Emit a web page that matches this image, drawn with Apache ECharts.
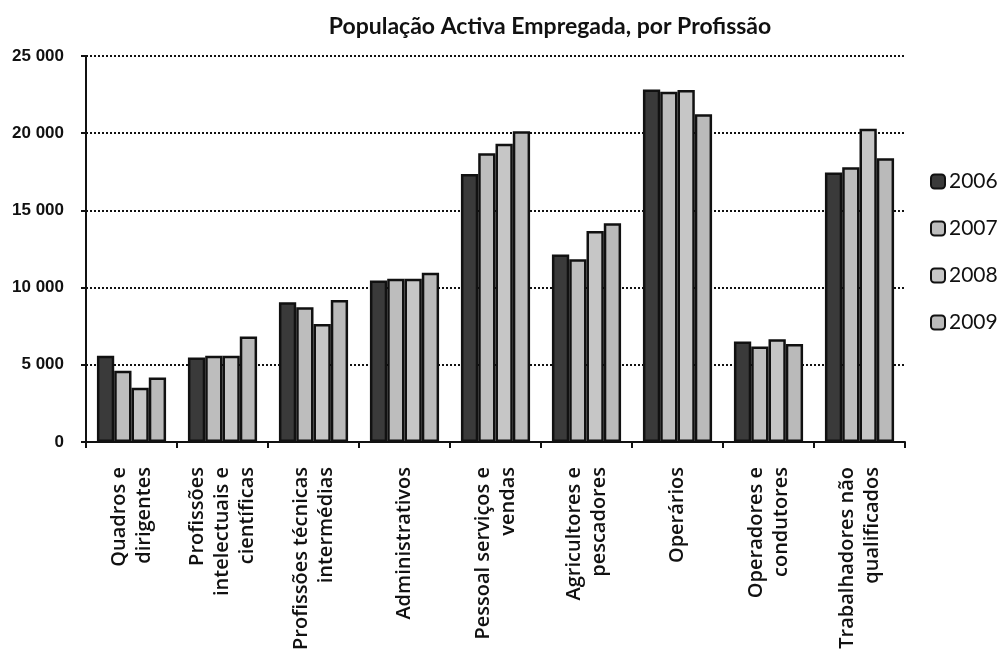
<!DOCTYPE html>
<html><head><meta charset="utf-8">
<script src="https://cdn.jsdelivr.net/npm/echarts@6/dist/echarts.min.js"></script>
<style>html,body{margin:0;padding:0;background:#fff}#c{width:1000px;height:668px}</style>
</head><body><div id="c"></div>
<script>
const title = 'População Activa Empregada, por Profissão';
const categories = ['Quadros e\ndirigentes','Profissões\nintelectuais e\ncientíficas','Profissões técnicas\nintermédias','Administrativos','Pessoal serviços e\nvendas','Agricultores e\npescadores','Operários','Operadores e\ncondutores','Trabalhadores não\nqualificados'];
const years = ['2006','2007','2008','2009'];
const v2006 = [5580, 5470, 9050, 10460, 17360, 12150, 22830, 6510, 17450];
const v2007 = [4620, 5580, 8720, 10570, 18700, 11830, 22680, 6180, 17790];
const v2008 = [3520, 5580, 7640, 10570, 19310, 13670, 22790, 6660, 20290];
const v2009 = [4170, 6840, 9200, 10960, 20120, 14170, 21220, 6340, 18380];
const yTicks = [0, 5000, 10000, 15000, 20000, 25000];
const colors = ['#3a3a3a', '#bdbdbd', '#c6c6c6', '#bababa'];
const seriesValues = [v2006, v2007, v2008, v2009];
const fmt = v => v === 0 ? '0' : String(v).replace(/\B(?=(\d{3})+(?!\d))/g, ' ');
const chart = echarts.init(document.getElementById('c'));
chart.setOption({
  animation: false,
  title: { text: title, left: 545, top: 10, textAlign: 'center',
    textStyle: { fontFamily: 'Lato', fontSize: 23, fontWeight: 'bold', color: '#111' } },
  legend: { orient: 'vertical', left: 925, top: 166, itemWidth: 14, itemHeight: 14, itemGap: 26,
    data: years,
    textStyle: { fontFamily: 'Lato', fontSize: 21, color: '#111', padding: [0,0,0,-1] } },
  grid: { left: 86, right: 95, top: 56, bottom: 226 },
  xAxis: { type: 'category', data: categories,
    axisLine: { lineStyle: { color: '#111', width: 2 } },
    axisTick: { show: true, length: 6, lineStyle: { color: '#111', width: 2 } },
    axisLabel: { rotate: 90, interval: 0, margin: 25, fontFamily: 'Open Sans', fontSize: 20, fontWeight: 600, lineHeight: 25, color: '#111', align: 'right' } },
  yAxis: { type: 'value', min: 0, max: 25000, interval: 5000,
    axisLine: { show: true, lineStyle: { color: '#111', width: 2 } },
    axisTick: { show: true, length: 5, lineStyle: { color: '#111', width: 2 } },
    splitLine: { lineStyle: { color: '#111', width: 2, type: [2, 2] } },
    axisLabel: { margin: 22, fontFamily: 'Liberation Sans', fontSize: 17, fontWeight: 'bold', color: '#111',
      formatter: v => yTicks.includes(v) ? fmt(v) : '' } },
  series: seriesValues.map((d, i) => ({
    name: years[i], type: 'bar', data: d, barGap: '0%', barCategoryGap: '24%',
    itemStyle: { color: colors[i], borderColor: '#111', borderWidth: 2.5 }
  }))
});
</script></body></html>
